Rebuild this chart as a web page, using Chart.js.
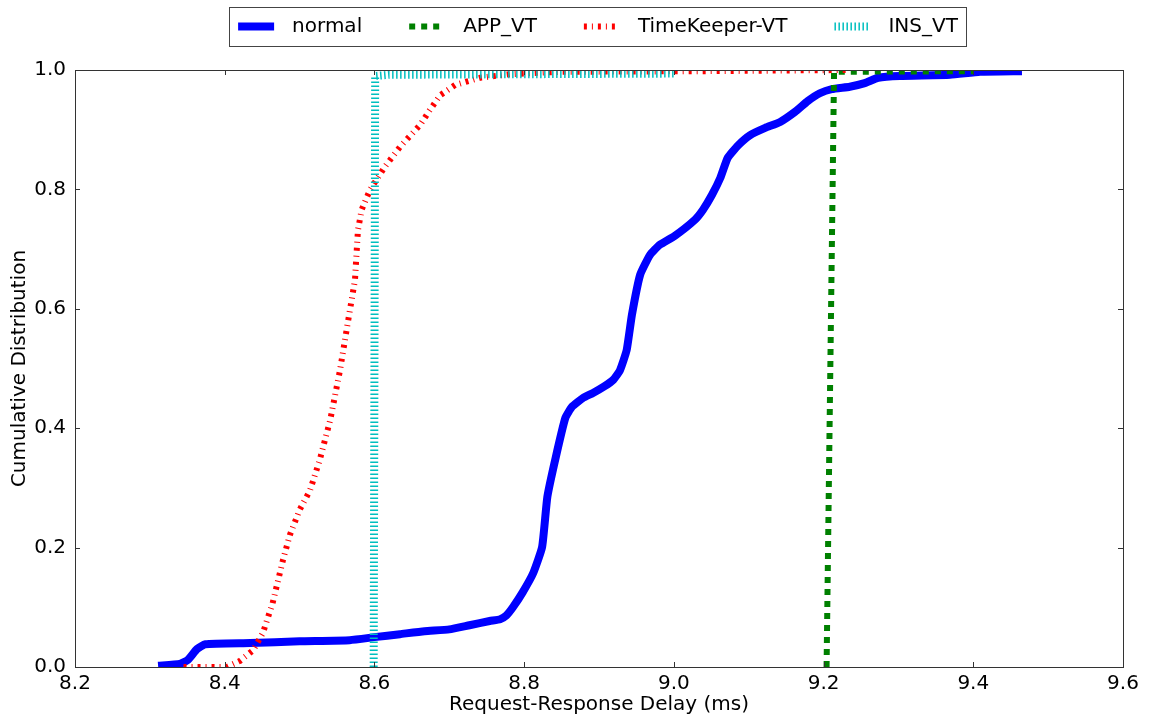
<!DOCTYPE html>
<html>
<head>
<meta charset="utf-8">
<script src="https://cdn.jsdelivr.net/npm/chart.js@4/dist/chart.umd.min.js"></script>
<style>
  html, body { margin: 0; padding: 0; background: #fff; }
  #wrap { width: 1149px; height: 721px; }
</style>
</head>
<body>
<div id="wrap"><canvas id="cdfChart" width="1149" height="721"></canvas></div>
<script>
// Valores (CDF del retardo petición-respuesta)
const normalX = [8.311, 8.340, 8.351, 8.363, 8.374, 8.434, 8.500, 8.567, 8.600, 8.634, 8.667, 8.700, 8.727, 8.754, 8.768, 8.776, 8.785, 8.798, 8.812, 8.824, 8.831, 8.842, 8.855, 8.864, 8.879, 8.892, 8.907, 8.919, 8.928, 8.937, 8.944, 8.955, 8.968, 8.981, 9.001, 9.028, 9.039, 9.051, 9.062, 9.072, 9.086, 9.102, 9.122, 9.142, 9.162, 9.179, 9.195, 9.211, 9.235, 9.255, 9.273, 9.302, 9.369, 9.409, 9.465];
const normalY = [0.002, 0.005, 0.012, 0.030, 0.038, 0.040, 0.043, 0.045, 0.050, 0.055, 0.060, 0.063, 0.070, 0.077, 0.080, 0.086, 0.100, 0.125, 0.157, 0.201, 0.285, 0.350, 0.417, 0.436, 0.451, 0.459, 0.470, 0.481, 0.497, 0.531, 0.590, 0.657, 0.690, 0.707, 0.722, 0.749, 0.766, 0.791, 0.819, 0.853, 0.874, 0.891, 0.903, 0.913, 0.930, 0.948, 0.961, 0.968, 0.972, 0.978, 0.987, 0.990, 0.992, 0.997, 0.998];

const appX = [9.204, 9.214, 9.400];
const appY = [0.0, 0.997, 0.998];

const tkX = [8.345, 8.403, 8.420, 8.438, 8.451, 8.464, 8.478, 8.487, 8.500, 8.514, 8.527, 8.541, 8.554, 8.565, 8.574, 8.578, 8.583, 8.594, 8.614, 8.634, 8.661, 8.674, 8.688, 8.708, 8.741, 8.781, 8.848, 9.035, 9.230];
const tkY = [0.0, 0.0, 0.010, 0.028, 0.057, 0.107, 0.180, 0.221, 0.263, 0.296, 0.347, 0.414, 0.497, 0.581, 0.648, 0.732, 0.766, 0.799, 0.838, 0.871, 0.908, 0.933, 0.958, 0.975, 0.987, 0.993, 0.997, 0.998, 1.0];

const insX = [8.599, 8.601, 8.620, 9.000];
const insY = [0.0, 0.990, 0.992, 0.994];

const xTicks = [8.2, 8.4, 8.6, 8.8, 9.0, 9.2, 9.4, 9.6];
const yTicks = [0.0, 0.2, 0.4, 0.6, 0.8, 1.0];

const FONT = '"DejaVu Sans", "Liberation Sans", sans-serif';

function toPoints(xs, ys) {
    return xs.map((x, i) => ({ x: x, y: ys[i] }));
}

// Marco del gráfico, marcas hacia dentro y leyenda con recuadro (estilo matplotlib)
const framePlugin = {
    id: 'frame',
    afterDraw(chart) {
        const ctx = chart.ctx;
        const a = chart.chartArea;
        const xs = chart.scales.x, ys = chart.scales.y;
        ctx.save();
        ctx.strokeStyle = '#333';
        ctx.lineWidth = 1;
        ctx.strokeRect(Math.round(a.left) + 0.5, Math.round(a.top) + 0.5,
            Math.round(a.right - a.left), Math.round(a.bottom - a.top));
        ctx.beginPath();
        xTicks.forEach(v => {
            const px = Math.round(xs.getPixelForValue(v)) + 0.5;
            ctx.moveTo(px, a.bottom); ctx.lineTo(px, a.bottom - 5);
            ctx.moveTo(px, a.top); ctx.lineTo(px, a.top + 5);
        });
        yTicks.forEach(v => {
            const py = Math.round(ys.getPixelForValue(v)) + 0.5;
            ctx.moveTo(a.left, py); ctx.lineTo(a.left + 5, py);
            ctx.moveTo(a.right, py); ctx.lineTo(a.right - 5, py);
        });
        ctx.stroke();

        // leyenda
        ctx.font = '20px ' + FONT;
        ctx.textBaseline = 'middle';
        ctx.fillStyle = '#000';
        const ds = chart.data.datasets;
        const sample = 36, gap = 18, spacing = 47;
        const widths = ds.map(d => ctx.measureText(d.label).width);
        const total = ds.length * (sample + gap) + widths.reduce((s, w) => s + w, 0) + (ds.length - 1) * spacing;
        const boxL = 229.5, boxR = 966.5, boxT = 7.5, boxB = 46.5;
        const cy = 26.5;
        let x = (boxL + boxR) / 2 - total / 2;
        ctx.strokeStyle = '#444';
        ctx.lineWidth = 1;
        ctx.setLineDash([]);
        ctx.strokeRect(boxL, boxT, boxR - boxL, boxB - boxT);
        ds.forEach((d, i) => {
            ctx.save();
            ctx.strokeStyle = d.borderColor;
            ctx.lineWidth = d.borderWidth;
            ctx.setLineDash(d.borderDash || []);
            ctx.beginPath();
            ctx.moveTo(x, cy);
            ctx.lineTo(x + sample, cy);
            ctx.stroke();
            ctx.restore();
            ctx.fillText(d.label, x + sample + gap, cy);
            x += sample + gap + widths[i] + spacing;
        });
        ctx.restore();
    }
};

const ctx = document.getElementById('cdfChart').getContext('2d');
new Chart(ctx, {
    type: 'line',
    data: {
        datasets: [{
            label: 'normal',
            data: toPoints(normalX, normalY),
            borderColor: '#0000ff',
            borderWidth: 8,
            borderJoinStyle: 'round',
            tension: 0.15,
            pointRadius: 0,
            fill: false,
            order: 4
        }, {
            label: 'APP_VT',
            data: toPoints(appX, appY),
            borderColor: '#008000',
            borderWidth: 6,
            borderDash: [6, 6],
            pointRadius: 0,
            fill: false,
            order: 3
        }, {
            label: 'TimeKeeper-VT',
            data: toPoints(tkX, tkY),
            borderColor: '#ff0000',
            borderWidth: 6,
            borderDash: [3, 5, 1, 5],
            borderJoinStyle: 'round',
            pointRadius: 0,
            fill: false,
            order: 2
        }, {
            label: 'INS_VT',
            data: toPoints(insX, insY),
            borderColor: '#00bfbf',
            borderWidth: 8,
            borderDash: [1.5, 2.5],
            pointRadius: 0,
            fill: false,
            order: 1
        }]
    },
    options: {
        responsive: false,
        animation: false,
        devicePixelRatio: 1,
        layout: { padding: { top: 70, right: 26, bottom: 0, left: 0 } },
        plugins: {
            legend: { display: false },
            tooltip: { enabled: false }
        },
        scales: {
            x: {
                type: 'linear',
                min: 8.2,
                max: 9.6,
                afterFit: scale => { scale.height = 54; },
                afterBuildTicks: scale => { scale.ticks = xTicks.map(v => ({ value: v })); },
                grid: { display: false, drawTicks: false },
                border: { display: false },
                ticks: {
                    color: '#000',
                    padding: 5,
                    font: { family: FONT, size: 20 },
                    callback: v => v.toFixed(1)
                },
                title: {
                    display: true,
                    text: 'Request-Response Delay (ms)',
                    color: '#000',
                    font: { family: FONT, size: 20 },
                    padding: { top: 0, bottom: 4 }
                }
            },
            y: {
                type: 'linear',
                min: 0,
                max: 1,
                afterFit: scale => { scale.width = 75; },
                afterBuildTicks: scale => { scale.ticks = yTicks.map(v => ({ value: v })); },
                grid: { display: false, drawTicks: false },
                border: { display: false },
                ticks: {
                    color: '#000',
                    padding: 9,
                    font: { family: FONT, size: 20 },
                    callback: v => v.toFixed(1)
                },
                title: {
                    display: true,
                    text: 'Cumulative Distribution',
                    color: '#000',
                    font: { family: FONT, size: 20 },
                    padding: { top: 8, bottom: 0 }
                }
            }
        }
    },
    plugins: [framePlugin]
});
</script>
</body>
</html>
